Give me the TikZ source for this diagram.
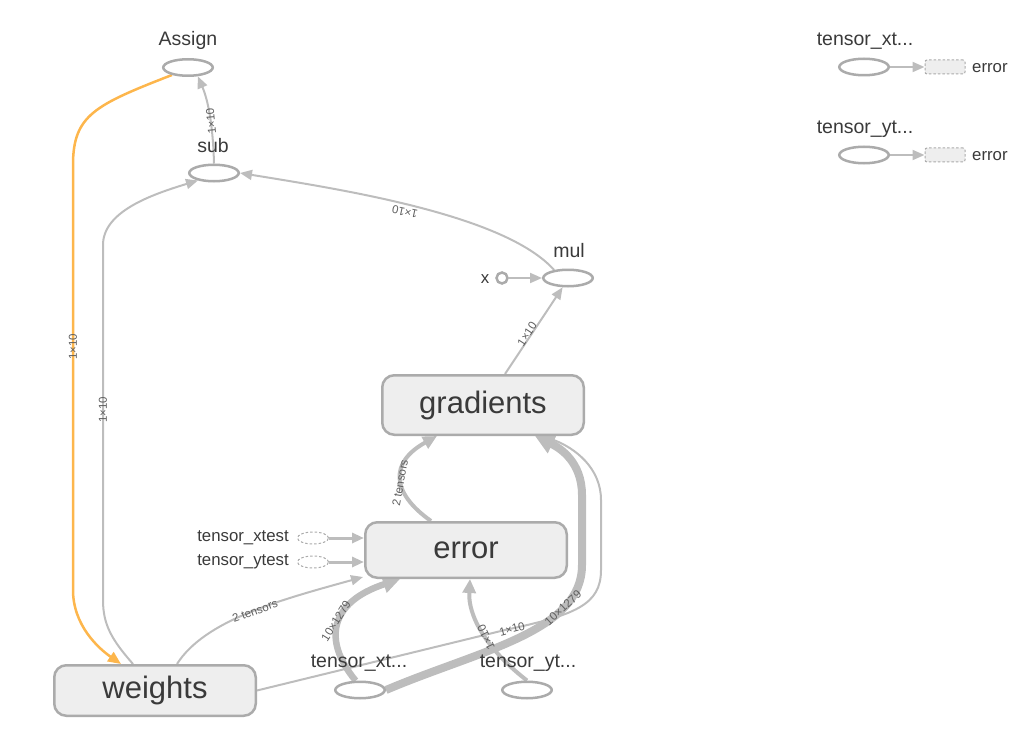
\documentclass[tikz,border=0pt]{standalone}
\usepackage{fontspec}
\setmainfont{Liberation Sans}
\usetikzlibrary{shapes.geometric,arrows.meta,backgrounds}
\definecolor{edgec}{HTML}{BDBDBD}
\definecolor{nodeline}{HTML}{ABABAB}
\definecolor{boxfill}{HTML}{EEEEEE}
\definecolor{txt}{HTML}{3A3A3A}
\definecolor{elabc}{HTML}{5E5E5E}
\definecolor{orangeedge}{HTML}{FDB64C}
\begin{document}
\begin{tikzpicture}[x=1pt,y=-1pt,
  op/.style={ellipse,draw=nodeline,line width=2.5pt,minimum width=49.5pt,minimum height=16.5pt,inner sep=0pt},
  dop/.style={ellipse,draw=nodeline,line width=1pt,dash pattern=on 2.5pt off 2pt,minimum width=31pt,minimum height=12pt,inner sep=0pt},
  dbox/.style={rectangle,rounded corners=2pt,draw=nodeline,fill=boxfill,line width=1pt,dash pattern=on 2.5pt off 2pt,minimum width=40pt,minimum height=14pt,inner sep=0pt},
  grp/.style={rectangle,rounded corners=12pt,draw=nodeline,fill=boxfill,line width=2.5pt,text=txt,font=\fontsize{31}{33}\selectfont,inner sep=0pt,minimum width=201.5pt},
  lab/.style={text=txt,font=\fontsize{19.5}{21}\selectfont,inner sep=0pt},
  slab/.style={text=txt,font=\fontsize{16.8}{18}\selectfont,inner sep=0pt},
  elab/.style={text=elabc,font=\fontsize{11.5}{12}\selectfont,inner sep=0pt},
  ed/.style={draw=edgec,line width=2pt,-{Triangle[length=12pt,width=10pt]}},
  edo/.style={draw=orangeedge,line width=2.5pt,-{Triangle[length=13pt,width=11pt]}},
  edm/.style={draw=edgec,line width=4pt,-{Triangle[length=14pt,width=13pt]}},
  edt/.style={draw=edgec,line width=6.5pt,-{Triangle[length=17pt,width=17pt]}},
  edtt/.style={draw=edgec,line width=8pt,-{Triangle[length=19pt,width=19pt]}},
  eds/.style={draw=edgec,line width=3pt,-{Triangle[length=12pt,width=10pt]}},
]
\useasboundingbox (0,0) rectangle (1031,741);

% nodes
\node[op] (Assign) at (188,67.5) {};
\node[lab] (AssignL) at (188,40) {Assign};
\node[op] (sub) at (214,173) {};
\node[lab] (subL) at (213,146) {sub};
\node[op] (mul) at (568,278) {};
\node[lab] (mulL) at (569,251) {mul};
\node[circle,draw=nodeline,line width=2.5pt,minimum size=11pt,inner sep=0pt] (x) at (502,278) {};
\node[slab] (xL) at (485,279) {x};
\node[grp,minimum height=59.5pt] (gradients) at (483,405) {gradients};
\node[grp,minimum height=55.5pt] (error) at (466,550) {error};
\node[grp,minimum height=50.5pt] (weights) at (155,690.5) {weights};
\node[op] (txt) at (360,690) {};
\node[lab] (txtL) at (359,663) {tensor\_xt...};
\node[op] (tyt) at (527,690) {};
\node[lab] (tytL) at (528,663) {tensor\_yt...};
\node[dop] (dx) at (313,538) {};
\node[slab,anchor=east] (dxL) at (289,538) {tensor\_xtest};
\node[dop] (dy) at (313,562) {};
\node[slab,anchor=east] (dyL) at (289,562) {tensor\_ytest};

\node[op] (rx) at (864,67) {};
\node[lab] (rxL) at (865,41) {tensor\_xt...};
\node[dbox] (rxe) at (945,67) {};
\node[slab,anchor=west] (rxeL) at (972,68) {error};
\node[op] (ry) at (864,155) {};
\node[lab] (ryL) at (865,129) {tensor\_yt...};
\node[dbox] (rye) at (945,155) {};
\node[slab,anchor=west] (ryeL) at (972,156) {error};

% edges
\begin{scope}[on background layer]
\draw[edo] (Assign.205) .. controls (95,105) and (73,115) .. (73,165) -- (73,590)
  .. controls (73,625) and (98,648) .. ([xshift=-34pt]weights.north);
\draw[ed] ([xshift=-22pt]weights.north) .. controls (112,640) and (103,625) .. (103,600) -- (103,245)
  .. controls (103,212) and (150,195) .. (sub.205);
\draw[ed] (sub.north) .. controls (213,125) and (208,100) .. (Assign.318);
\draw[ed] (mul.150) .. controls (505,215) and (345,190) .. (sub.east);
\draw[ed] (x.east) -- (mul.west);
\draw[ed] ([xshift=22pt]gradients.north) -- (mul.240);
\draw[edm] ([xshift=-35pt]error.north) .. controls (390,492) and (390,462) .. ([xshift=-46pt]gradients.south);
\draw[ed] ([xshift=22pt]weights.north) .. controls (205,620) and (280,600) .. ([xshift=-103pt,yshift=2pt]error.south);
\draw[ed] (weights.east) -- (505,630) .. controls (575,615) and (601,605) .. (601,570) -- (601,500)
  .. controls (601,468) and (575,448) .. ([xshift=60pt]gradients.south);
\draw[edt] (txt.115) .. controls (322,640) and (330,602) .. ([xshift=-66pt]error.south);
\draw[edtt] (txt.east) .. controls (480,650) and (582,632) .. (582,565) -- (582,495)
  .. controls (582,462) and (560,448) .. ([xshift=52pt]gradients.south);
\draw[edm] (tyt.north) .. controls (485,648) and (468,615) .. ([xshift=4pt]error.south);
\draw[eds] (dx.east) -- (error.west |- dx.east);
\draw[eds] (dy.east) -- (error.west |- dy.east);
\draw[ed] (rx.east) -- (rxe.west);
\draw[ed] (ry.east) -- (rye.west);
\end{scope}

% edge labels
\node[elab,rotate=90] (l1) at (73,347) {1×10};
\node[elab,rotate=90] (l2) at (103,410) {1×10};
\node[elab,rotate=95] (l3) at (211,121) {1×10};
\node[elab,rotate=168] (l4) at (405,212) {1×10};
\node[elab,rotate=57] (l5) at (527,334) {1×10};
\node[elab,rotate=80] (l6) at (400,483) {2 tensors};
\node[elab,rotate=20] (l7) at (255,611) {2 tensors};
\node[elab,rotate=58] (l8) at (336,621) {10×1279};
\node[elab,rotate=43] (l9) at (563,608) {10×1279};
\node[elab,rotate=15] (l10) at (512,629) {1×10};
\node[elab,rotate=115] (l11) at (486,637) {1×10};
\end{tikzpicture}
\end{document}
